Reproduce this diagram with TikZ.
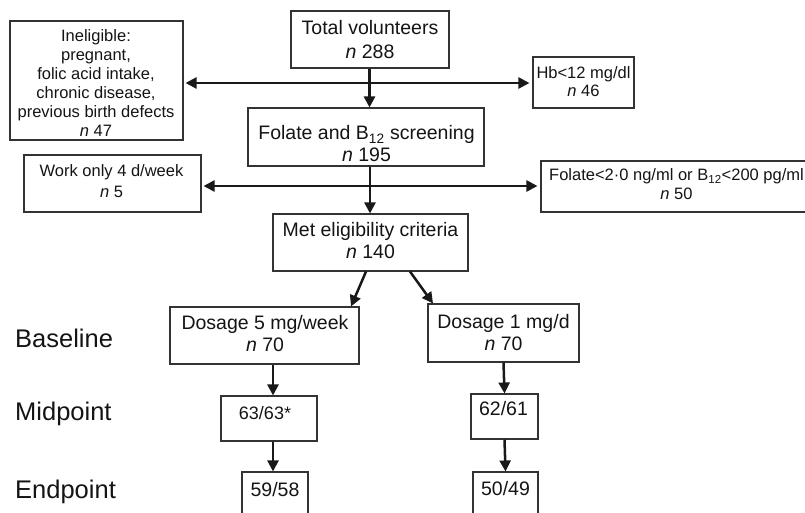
\documentclass[tikz,border=0pt]{standalone}
\usepackage{fontspec}
\setmainfont{Liberation Sans}
\usetikzlibrary{arrows.meta,calc}
\begin{document}
\begin{tikzpicture}[x=1pt,y=1pt,
  box/.style={draw=black!80,line width=1.1pt,inner sep=0pt},
  txt/.style={align=center,inner sep=0pt,text=black!92},
  lab/.style={font=\fontsize{25.5}{28}\selectfont,anchor=west,inner sep=0pt,text=black!92},
  arr/.style={line width=2.5pt,draw=black!90,-{Triangle[length=11pt,width=11pt]}}]
\useasboundingbox (0,0) rectangle (805,-513);

% boxes
\node[box,minimum width=158pt,minimum height=57pt] (total) at (370,-39.5) {};
\node[box,minimum width=173pt,minimum height=119pt] (inel) at (96.5,-80.5) {};
\node[box,minimum width=101pt,minimum height=51pt] (hb) at (583.5,-82.5) {};
\node[box,minimum width=236pt,minimum height=58pt] (screen) at (366,-137) {};
\node[box,minimum width=177pt,minimum height=57pt] (work) at (112.5,-183.5) {};
\node[box,minimum width=267pt,minimum height=51pt] (fol) at (674.5,-186.5) {};
\node[box,minimum width=195pt,minimum height=57pt] (met) at (370.5,-242.5) {};
\node[box,minimum width=189pt,minimum height=57pt] (d5) at (264.5,-335.5) {};
\node[box,minimum width=151pt,minimum height=58pt] (d1) at (503.5,-333) {};
\node[box,minimum width=96pt,minimum height=45pt] (m5) at (269,-418.5) {};
\node[box,minimum width=67pt,minimum height=45pt] (m1) at (504.5,-416.5) {};
\node[box,minimum width=66pt,minimum height=60pt] (e5) at (275,-502) {};
\node[box,minimum width=65pt,minimum height=60pt] (e1) at (505.5,-502) {};

% texts
\node[txt,font=\fontsize{19.5}{24}\selectfont] (ttotal) at (370,-40) {Total volunteers\\\textit{n} 288};
\node[txt,font=\fontsize{16.5}{19}\selectfont] (tinel) at (96,-83) {Ineligible:\\pregnant,\\folic acid intake,\\chronic disease,\\previous birth defects\\\textit{n} 47};
\node[txt,font=\fontsize{16.5}{17.5}\selectfont] (thb) at (583.5,-81.5) {Hb<12 mg/dl\\\textit{n} 46};
\node[txt,font=\fontsize{19.5}{22}\selectfont] (tscreen) at (366.5,-144) {Folate and B\textsubscript{12} screening\\\textit{n} 195};
\node[txt,font=\fontsize{16.5}{21}\selectfont] (twork) at (111.5,-181.5) {Work only 4 d/week\\\textit{n} 5};
\node[txt,font=\fontsize{16.5}{19}\selectfont] (tfol) at (676.5,-184.5) {Folate<2·0 ng/ml or B\textsubscript{12}<200 pg/ml\\\textit{n} 50};
\node[txt,font=\fontsize{19.5}{22}\selectfont] (tmet) at (370.5,-241) {Met eligibility criteria\\\textit{n} 140};
\node[txt,font=\fontsize{19.5}{22}\selectfont] (td5) at (265,-334) {Dosage 5 mg/week\\\textit{n} 70};
\node[txt,font=\fontsize{19.5}{22}\selectfont] (td1) at (503.5,-333) {Dosage 1 mg/d\\\textit{n} 70};
\node[txt,font=\fontsize{18}{20}\selectfont] (tm5) at (265,-413) {63/63*};
\node[txt,font=\fontsize{19.5}{22}\selectfont] (tm1) at (503.5,-409) {62/61};
\node[txt,font=\fontsize{19.5}{22}\selectfont] (te5) at (275,-490) {59/58};
\node[txt,font=\fontsize{19.5}{22}\selectfont] (te1) at (505.5,-489) {50/49};

% side labels
\node[lab] (lbase) at (15,-338) {Baseline};
\node[lab] (lmid) at (15,-414) {Midpoint};
\node[lab] (lend) at (15,-492) {Endpoint};

% connectors
\coordinate (j1) at (369.5,-83);
\coordinate (j2) at (370,-186);
\draw[arr] (total.south -| j1) -- (screen.north -| j1);
\draw[arr,shorten >=2pt] (j1) -- (inel.east |- j1);
\draw[arr,shorten >=3pt] (j1) -- (hb.west |- j1);
\draw[arr] (screen.south -| j2) -- (met.north -| j2);
\draw[arr,shorten >=2pt] (j2) -- (work.east |- j2);
\draw[arr,shorten >=3pt] (j2) -- (fol.west |- j2);
\draw[arr] ($(met.south)+(-4.5,0)$) -- ($(d5.north)+(86.5,0)$);
\draw[arr] ($(met.south)+(39.5,0)$) -- ($(d1.north)+(-70.5,0)$);
\draw[arr] ($(d5.south)+(8.5,0)$) -- ($(m5.north)+(4,0)$);
\draw[arr] ($(m5.south)+(4,0)$) -- ($(e5.north)+(-2,0)$);
\draw[arr] (d1.south) -- (m1.north);
\draw[arr] (m1.south) -- (e1.north);
\end{tikzpicture}
\end{document}
